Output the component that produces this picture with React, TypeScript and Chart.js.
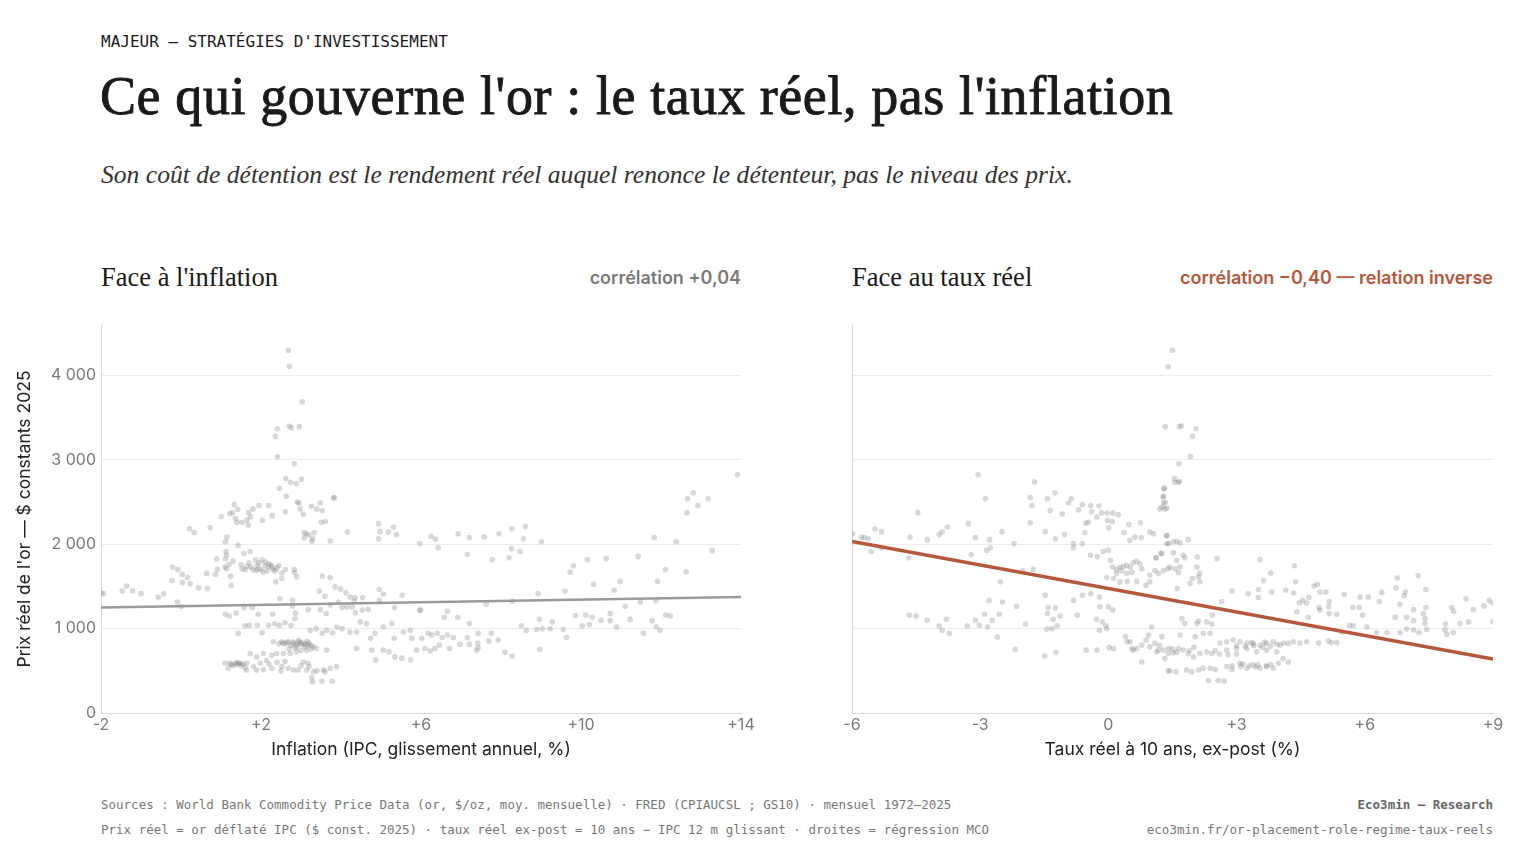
import React, { useEffect, useRef } from 'react';
import { Chart, registerables } from 'chart.js';

Chart.register(...registerables);

// --- données : [x, prix réel $ 2025] ---

// or vs inflation (IPC, glissement annuel, %)
const inflationHigh: [number, number][] = [
  [2.68, 4300], [2.71, 4110], [3.03, 3690], [2.41, 3370], [2.36, 3280], [2.71, 3400], [2.76, 3380], [2.96, 3395],
  [2.41, 3040], [2.83, 2955], [2.62, 2780], [2.74, 2735], [2.88, 2720], [3.01, 2770], [2.46, 2665], [2.63, 2570],
  [2.91, 2500], [2.95, 2490], [3.81, 2550], [3.84, 2555], [2.61, 2385], [2.98, 2420], [3.06, 2355], [3.26, 2450],
  [3.39, 2420], [3.48, 2490], [3.53, 2400], [3.51, 2260], [3.61, 2270], [2.28, 2340], [1.95, 2460], [2.19, 2460],
  [1.80, 2420], [1.69, 2375], [1.74, 2325], [1.65, 2290], [1.53, 2260], [1.68, 2230], [1.40, 2260], [1.36, 2305],
  [1.29, 2375], [1.22, 2365], [1.33, 2470], [1.42, 2415], [1.01, 2330], [2.04, 2285], [0.21, 2185], [0.33, 2140],
  [0.73, 2200], [3.08, 2140], [3.13, 2125], [3.20, 2110], [3.33, 2140], [3.27, 2035], [3.08, 2075], [3.29, 2070],
  [4.16, 2145], [3.73, 2040], [4.94, 2245], [4.98, 2150], [4.94, 2065], [5.19, 2145], [5.31, 2205], [5.39, 2115],
  [5.97, 2010],
];

const inflationMid: [number, number][] = [
  [1.15, 2085], [1.11, 2030], [1.43, 1990], [1.57, 1890], [1.73, 1915], [1.86, 1815], [2.03, 1815], [2.11, 1790],
  [2.19, 1730], [2.28, 1730], [2.44, 1745], [0.89, 1825], [1.11, 1825], [1.13, 1915], [1.14, 1870], [1.10, 1730],
  [1.14, 1710], [1.53, 1710], [1.61, 1700], [1.75, 1730], [1.88, 1690], [1.93, 1710], [2.06, 1670], [2.15, 1685],
  [2.35, 1685], [2.52, 1660], [2.61, 1700], [2.83, 1700], [2.84, 1665], [2.89, 1615], [0.91, 1705], [0.64, 1655],
  [0.86, 1645], [1.24, 1620], [1.50, 1760], [1.70, 1780], [1.90, 1750], [2.00, 1700], [2.20, 1770], [1.30, 1800],
  [1.20, 1760], [2.30, 1700], [2.40, 1720], [1.80, 1700], [2.10, 1745], [1.65, 1740], [1.95, 1780], [2.25, 1755],
  [-0.21, 1730], [-0.08, 1700], [0.03, 1645], [0.16, 1610], [0.23, 1535],
  [0.04, 1545], [-0.23, 1570], [0.44, 1485], [0.66, 1475], [-1.36, 1505], [-1.21, 1445], [-1.0, 1415], [-1.47, 1445],
  [-1.94, 1415], [-0.57, 1375], [-0.43, 1415], [-0.09, 1315], [0.01, 1265], [1.26, 1515], [2.37, 1555], [2.52, 1595],
  [2.47, 1355], [2.79, 1335], [2.79, 1270],
  [1.11, 1170], [1.21, 1150], [1.38, 1185], [1.58, 1250], [1.78, 1250], [1.93, 1170], [2.29, 1170], [2.86, 1185],
  [2.85, 1120], [3.18, 1225], [3.48, 1225], [3.63, 1180], [3.73, 1280], [3.93, 1315], [4.03, 1250], [4.15, 1258],
  [4.28, 1258], [4.35, 1365], [4.54, 1370], [4.36, 1190], [4.53, 1220], [4.68, 1230], [4.96, 1465], [5.06, 1410],
  [4.96, 1335], [5.34, 1250], [5.53, 1395], [5.97, 1220], [3.46, 1445], [3.60, 1385], [3.73, 1605], [3.53, 1625],
  [3.85, 1495], [3.99, 1470], [4.12, 1425], [4.23, 1375], [4.33, 1325],
];

const inflationLow: [number, number][] = [
  [1.43, 945], [1.60, 1035], [1.71, 1040], [1.91, 1040], [2.03, 955], [2.19, 1040], [2.34, 1060], [2.46, 1040],
  [2.60, 1070], [2.75, 1040], [3.23, 980], [3.38, 1000], [3.53, 945], [3.64, 980], [3.79, 955], [3.90, 1020],
  [4.03, 1000], [4.22, 960], [4.39, 960], [4.48, 1080], [4.64, 1060], [4.85, 945], [4.74, 885], [5.06, 1020],
  [5.27, 1060], [5.33, 885], [5.56, 960], [5.77, 885],
  [2.31, 845], [2.52, 845], [2.68, 845], [2.81, 825], [2.93, 845], [3.06, 825], [3.18, 805], [3.31, 785],
  [3.39, 765], [3.14, 745], [2.89, 725], [2.73, 705], [2.56, 705], [2.39, 705], [2.27, 685], [2.06, 705],
  [1.89, 665], [1.73, 705], [2.14, 625], [1.98, 590], [1.81, 550], [1.64, 590], [1.48, 590], [1.39, 605],
  [1.23, 590], [1.10, 590], [1.18, 530], [1.64, 510], [1.89, 510], [2.06, 515], [2.27, 530], [2.52, 550],
  [2.68, 530], [2.81, 510], [2.93, 510], [3.14, 510], [3.31, 490], [3.56, 510], [3.73, 530], [3.89, 550],
  [3.27, 420], [3.29, 370], [3.52, 380], [3.78, 380], [3.64, 745], [4.39, 765], [4.77, 745], [4.87, 630],
  [5.06, 745], [5.20, 725], [5.35, 665], [5.52, 650], [5.74, 630], [3.06, 605], [3.18, 590],
  [2.60, 820], [2.75, 800], [2.90, 790], [3.00, 810], [3.10, 780], [3.20, 830], [2.85, 770], [3.25, 760],
  [2.45, 820], [2.95, 860], [3.00, 740], [2.70, 760], [1.30, 560], [1.50, 560], [1.40, 575], [1.60, 540],
  [2.20, 580], [2.40, 600], [2.60, 610], [3.00, 560], [2.50, 500], [3.40, 500], [3.60, 490], [3.20, 550],
  [2.55, 830], [2.65, 835], [2.80, 840], [3.00, 835], [3.10, 815], [3.25, 800], [2.90, 815], [3.15, 850],
  [1.35, 585], [1.45, 590], [1.55, 580], [1.25, 575],
];

const inflationHighRate: [number, number][] = [
  [6.25, 2095], [6.36, 2060], [6.43, 1960], [6.93, 2125], [7.21, 2080], [7.16, 1880], [7.58, 2090], [7.78, 1820],
  [7.95, 2125], [8.20, 1840], [8.27, 2185], [8.26, 1950], [8.48, 1915], [8.56, 2065], [8.61, 2210], [9.01, 2030],
  [9.73, 1670], [9.81, 1745], [10.16, 1820], [10.63, 1830], [11.43, 1855], [11.83, 2080], [12.38, 2030], [10.31, 1525],
  [10.98, 1560], [11.91, 1560], [12.11, 1700], [12.63, 1675], [12.65, 2375], [12.66, 2540], [12.81, 2610], [12.92, 2460],
  [13.18, 2540], [13.28, 1925], [13.91, 2825], [8.93, 1415], [9.60, 1445], [10.83, 1455], [11.48, 1315], [11.87, 1335],
  [11.10, 1265], [5.99, 1220], [6.66, 1205], [6.58, 1135], [6.92, 1135], [7.21, 1060], [7.63, 1290], [8.28, 1325],
  [8.51, 1035], [8.63, 980], [8.96, 1110], [8.89, 990], [9.03, 1000], [9.23, 1000], [9.28, 1080], [9.56, 990],
  [9.64, 895], [9.86, 1155], [10.03, 1035], [10.12, 1160], [10.21, 1050], [10.28, 1135], [10.50, 1100], [10.73, 1180],
  [10.73, 1095], [10.89, 1020], [11.23, 1110], [11.56, 945], [11.78, 1095], [11.88, 1020], [11.98, 980], [12.12, 1160],
  [12.23, 1150], [5.73, 980], [6.02, 885], [6.18, 945], [6.27, 925], [6.41, 945], [6.53, 895], [6.66, 925],
  [6.81, 895], [6.98, 815], [7.16, 895], [7.21, 815], [7.43, 945], [7.42, 830], [7.76, 945], [7.69, 855],
  [7.93, 865], [7.39, 745], [7.43, 775], [8.10, 720], [8.28, 675], [8.97, 755], [5.89, 745], [6.10, 765],
  [6.23, 735], [6.35, 765], [6.46, 805], [6.71, 765], [-2.0, 1425],
];

// or vs taux réel à 10 ans ex-post (%)
const realNegative: [number, number][] = [
  [-5.99, 2125], [-5.78, 2085], [-5.71, 2080], [-5.62, 2065], [-5.46, 2180], [-5.31, 2150], [-5.55, 1915], [-5.31, 1955],
  [-4.46, 2375], [-4.64, 2085], [-4.24, 2055], [-4.67, 1840], [-3.96, 2115], [-3.89, 2145], [-3.77, 2205], [-3.28, 2245],
  [-3.11, 2080], [-3.05, 2825], [-2.88, 2540], [-2.78, 2055], [-2.85, 1930], [-2.76, 1960], [-3.21, 1880], [-2.49, 2150],
  [-2.21, 2010], [-2.53, 1555], [-1.83, 2555], [-1.79, 2460], [-1.83, 2255], [-1.73, 2740], [-1.48, 2150], [-1.43, 2540],
  [-1.36, 2400], [-1.25, 2610], [-1.24, 2065], [-1.03, 2115], [-1.08, 2360], [-0.93, 2490], [-0.87, 2540], [-0.82, 2010],
  [-0.82, 1960], [-0.70, 2410], [-0.61, 2470], [-0.61, 2010], [-0.55, 2140], [-0.53, 2250], [-0.47, 2265], [-0.41, 2460],
  [-0.39, 2385], [-0.27, 2325], [-0.22, 2455], [-0.16, 2375], [-0.03, 2370], [-0.02, 2285], [0.09, 2270], [0.10, 2370],
  [0.01, 2195], [0.23, 2350], [0.37, 2140], [0.48, 2235], [0.75, 2255], [0.50, 2045], [0.62, 2085], [0.77, 2080],
  [0.97, 2145], [1.06, 2125], [1.12, 1840], [1.23, 1890], [1.28, 2560], [1.29, 2490], [1.31, 2665], [1.32, 2420],
  [1.20, 2420], [1.36, 2100], [1.41, 2010],
  [-4.66, 1160], [-4.50, 1150], [-4.24, 1100], [-3.96, 1030], [-3.89, 980], [-3.79, 1110], [-3.72, 945], [-3.30, 1030],
  [-3.11, 1100], [-3.02, 1040], [-2.90, 1170], [-2.83, 1020], [-2.72, 1100], [-2.55, 1170], [-2.60, 900], [-2.79, 1335],
  [-2.48, 1315], [-2.15, 1265], [-1.94, 1055], [-2.18, 755], [-2.00, 1685], [-1.76, 1705], [-1.48, 1395], [-1.41, 1250],
  [-1.24, 1245], [-1.43, 1180], [-1.13, 1150], [-1.29, 1110], [-1.20, 1035], [-1.44, 995], [-1.32, 1000], [-1.49, 675],
  [-1.23, 720], [-0.73, 1160], [-0.82, 1335], [-0.61, 1395], [-0.52, 745], [-0.41, 1415], [-0.27, 745], [-0.21, 1375],
  [-0.20, 1260], [-0.28, 1110], [-0.14, 1080], [-0.06, 1035], [-0.04, 1000], [-0.21, 980], [0.10, 1220], [0.02, 775],
  [0.12, 765], [0.0, 1260],
];

const realMid: [number, number][] = [
  [-0.42, 1870], [-0.26, 1855], [-0.12, 1915], [0.0, 1930], [0.05, 1810], [0.10, 1730], [0.19, 1700], [0.27, 1725],
  [0.35, 1740], [0.43, 1750], [0.51, 1730], [0.58, 1780], [0.66, 1800], [0.74, 1770], [0.78, 1710], [0.55, 1670],
  [0.43, 1655], [0.31, 1685], [0.19, 1655], [0.12, 1595], [-0.04, 1605], [0.27, 1555], [0.44, 1560], [0.66, 1560],
  [0.88, 1515], [0.97, 1635], [1.09, 1690], [1.17, 1655], [1.29, 1690], [1.40, 1710], [1.11, 1840], [0.97, 1555],
  [0.40, 905], [0.51, 845], [0.58, 745], [0.66, 765], [0.78, 805], [0.88, 865], [0.94, 925], [1.01, 1020],
  [0.97, 785], [1.09, 825], [1.17, 745], [1.25, 905], [1.32, 645], [1.40, 705], [0.78, 605], [1.40, 500],
  [1.13, 725], [0.44, 845], [0.55, 765],
  [1.50, 4300], [1.40, 4105], [1.33, 3395], [1.66, 3395], [1.71, 3405], [2.05, 3370], [1.97, 3280], [1.92, 3040],
  [1.65, 2955], [1.55, 2780], [1.64, 2735], [1.55, 2735], [1.66, 2745], [1.30, 2660], [1.29, 2570], [1.33, 2495],
  [1.37, 2430], [1.25, 2440], [1.37, 2105], [1.37, 2010], [1.52, 2030], [1.60, 2035], [1.68, 2015], [1.87, 2055],
  [1.52, 1900], [1.60, 1810], [1.75, 1870], [1.79, 1840], [1.44, 1725], [1.56, 1710], [1.64, 1665], [1.68, 1730],
  [2.08, 1850], [2.07, 1730], [2.14, 1655], [2.11, 1615], [2.14, 1555], [1.91, 1535], [1.97, 1595], [1.25, 1890],
  [2.54, 1830], [3.55, 1820], [3.80, 1660], [3.63, 1570], [4.35, 1745], [1.61, 1475], [4.38, 1555],
];

const realPositive: [number, number][] = [
  [2.89, 1445], [3.27, 1415], [3.51, 1465], [3.51, 1370], [3.82, 1435], [4.15, 1455], [4.33, 1425], [4.47, 1305],
  [4.55, 1335], [4.69, 1370], [4.81, 1505], [4.89, 1525], [4.95, 1435], [5.09, 1435], [5.17, 1320], [5.15, 1260],
  [4.95, 1220], [5.52, 1405], [5.89, 1375], [6.08, 1375], [6.40, 1430], [6.34, 1320], [6.73, 1485], [6.76, 1600],
  [6.95, 1435], [6.92, 1390], [7.25, 1630], [7.43, 1465], [7.43, 1250], [6.82, 1290], [7.14, 1225], [7.37, 1180],
  [5.95, 1160], [5.72, 1250], [5.87, 1250], [5.34, 1170], [5.17, 1180], [4.93, 1250], [4.68, 1135], [4.41, 1200],
  [4.64, 1305], [6.71, 1135], [6.98, 1135], [7.14, 1095], [7.41, 1120], [7.41, 1060], [8.03, 1250], [8.08, 1205],
  [8.37, 1355], [8.54, 1225], [8.79, 1270], [8.91, 1335], [9.0, 1305], [9.0, 1080], [8.23, 1060], [8.43, 1080],
  [7.89, 1055], [7.92, 930], [8.07, 955], [7.88, 985], [6.83, 955], [6.98, 995], [7.14, 985], [7.27, 955],
  [7.45, 990], [6.52, 955], [6.28, 955], [6.05, 1020], [5.64, 1040], [5.73, 1035], [5.46, 960], [5.22, 835],
  [5.34, 835], [5.15, 855], [4.92, 830], [2.65, 1320], [2.43, 1160], [2.11, 1090], [1.72, 1120], [1.79, 1060],
  [2.07, 1060], [2.30, 1080], [2.42, 1055],
  [1.29, 745], [1.41, 765], [1.52, 715], [1.64, 765], [1.75, 745], [1.87, 705], [1.99, 665], [2.14, 705],
  [2.30, 725], [2.42, 705], [1.44, 500], [1.58, 490], [1.83, 510], [1.95, 490], [2.11, 510], [2.22, 530],
  [2.38, 530], [2.50, 515], [2.34, 385], [2.57, 385], [2.71, 380], [2.77, 550], [2.89, 515], [3.08, 590],
  [3.24, 530], [3.39, 570], [3.55, 530], [3.70, 550], [3.86, 530], [3.98, 590], [4.09, 645], [4.21, 605],
  [2.61, 830], [2.77, 845], [2.92, 865], [3.08, 845], [3.24, 830], [3.39, 825], [3.55, 805], [3.70, 825],
  [3.86, 845], [4.02, 805], [4.21, 825], [4.33, 845], [4.48, 830], [4.64, 845], [2.77, 745], [3.00, 765],
  [3.24, 765], [3.47, 725], [3.70, 745], [3.94, 725], [2.22, 945], [2.38, 945], [1.68, 925], [2.03, 905],
  [2.90, 560], [3.10, 550], [3.30, 560], [3.50, 570], [3.70, 560], [3.00, 800], [3.20, 790], [3.40, 800],
  [3.60, 780], [3.80, 790], [2.50, 740], [2.60, 700], [2.80, 690], [3.00, 700], [1.60, 720], [1.90, 740],
  [2.00, 780], [1.50, 760], [1.20, 800], [3.15, 580], [3.45, 545], [3.80, 575], [3.35, 835], [3.65, 840],
  [3.95, 815], [4.10, 830],
];

// droites de régression MCO (extrémités lues)
const fitInflation: [number, number][] = [[-2, 1250], [14, 1375]];
const fitReal: [number, number][] = [[-6, 2035], [9, 640]];

const inflationTicks = { min: -2, max: 14, step: 4 };
const realTicks = { min: -6, max: 9, step: 3 };
const priceTicks = [0, 1000, 2000, 3000, 4000];

const SANS = 'Inter, "Noto Sans", sans-serif';
const SERIF = '"Liberation Serif", "DejaVu Serif", serif';
const MONO = '"DejaVu Sans Mono", "Liberation Mono", monospace';

const toPts = (rows: [number, number][]) => rows.map(([x, y]) => ({ x, y }));
const signed = (v: number) => (v > 0 ? '+' + v : String(v));
const thousands = (v: number) => String(v).replace(/\B(?=(\d{3})+(?!\d))/g, '\u00a0');

interface PanelProps {
  points: [number, number][];
  fit: [number, number][];
  fitColor: string;
  fitWidth: number;
  ticks: { min: number; max: number; step: number };
  xTitle: string;
  showY: boolean;
  yAxisWidth: number;
  padRight: number;
}

function ScatterPanel({ points, fit, fitColor, fitWidth, ticks, xTitle, showY, yAxisWidth, padRight }: PanelProps) {
  const canvasRef = useRef<HTMLCanvasElement>(null);

  useEffect(() => {
    if (!canvasRef.current) return;
    const chart = new Chart(canvasRef.current, {
      type: 'scatter',
      data: {
        datasets: [
          {
            type: 'line',
            data: toPts(fit),
            borderColor: fitColor,
            borderWidth: fitWidth,
            pointRadius: 0,
            fill: false,
          } as any,
          {
            data: toPts(points),
            backgroundColor: 'rgba(125,125,125,0.3)',
            borderWidth: 0,
            pointRadius: 2.8,
          },
        ],
      },
      options: {
        animation: false,
        responsive: false,
        maintainAspectRatio: false,
        layout: { padding: { top: 25, right: padRight, left: 0, bottom: 0 } },
        plugins: { legend: { display: false }, tooltip: { enabled: false } },
        scales: {
          x: {
            type: 'linear',
            min: ticks.min,
            max: ticks.max,
            grid: { display: false, drawTicks: false },
            border: { display: true, color: '#d9d9d9', width: 1 },
            ticks: {
              stepSize: ticks.step,
              padding: 3,
              color: '#7a7a7a',
              font: { family: SANS, size: 16 },
              callback: (v: any) => signed(Number(v)),
            },
            title: {
              display: true,
              text: xTitle,
              color: '#222',
              font: { family: SANS, size: 17.5 },
              padding: { top: 0, bottom: 10 },
            },
            afterFit: (s: any) => {
              s.height = 57;
            },
          },
          y: {
            type: 'linear',
            min: 0,
            max: 4600,
            grid: { color: '#ececec', drawTicks: false, lineWidth: 1 },
            border: { display: true, color: '#d9d9d9', width: 1 },
            afterBuildTicks: (s: any) => {
              s.ticks = priceTicks.map((value) => ({ value }));
            },
            ticks: {
              display: showY,
              padding: 5,
              color: '#7a7a7a',
              font: { family: SANS, size: 16 },
              callback: (v: any) => thousands(Number(v)),
            },
            title: {
              display: showY,
              text: "Prix réel de l'or — $ constants 2025",
              color: '#222',
              font: { family: SANS, size: 17.5 },
              padding: { top: 14, bottom: 0 },
            },
            afterFit: (s: any) => {
              s.width = yAxisWidth;
            },
          },
        },
      },
    });
    return () => chart.destroy();
  }, [points, fit, fitColor, fitWidth, ticks, xTitle, showY, yAxisWidth, padRight]);

  return <canvas ref={canvasRef} style={{ width: '100%', height: '100%', display: 'block' }} />;
}

const inflationAll = [...inflationHigh, ...inflationMid, ...inflationLow, ...inflationHighRate];
const realAll = [...realNegative, ...realMid, ...realPositive];

export default function App() {
  const abs = (s: React.CSSProperties): React.CSSProperties => ({ position: 'absolute', ...s });
  return (
    <div style={{ position: 'absolute', left: 0, top: 0, width: 1536, height: 864, background: '#fff', overflow: 'hidden' }}>
      <div style={abs({ left: 101, top: 32, fontFamily: MONO, fontSize: 16, lineHeight: '20px', color: '#1a1a1a' })}>
        MAJEUR — STRATÉGIES D'INVESTISSEMENT
      </div>
      <div
        style={abs({
          left: 100,
          top: 69,
          fontFamily: SERIF,
          fontSize: 54,
          lineHeight: '54px',
          fontWeight: 400,
          letterSpacing: '0.6px',
          WebkitTextStroke: '0.9px #1a1a1a',
          color: '#1a1a1a',
          whiteSpace: 'nowrap',
        })}
      >
        Ce qui gouverne l'or : le taux réel, pas l'inflation
      </div>
      <div style={abs({ left: 101, top: 162, fontFamily: SERIF, fontSize: 25.6, lineHeight: '26px', fontStyle: 'italic', color: '#333', whiteSpace: 'nowrap' })}>
        Son coût de détention est le rendement réel auquel renonce le détenteur, pas le niveau des prix.
      </div>

      <div style={abs({ left: 101, top: 263, fontFamily: SERIF, fontSize: 26.5, lineHeight: '28px', color: '#1a1a1a', whiteSpace: 'nowrap' })}>
        Face à l'inflation
      </div>
      <div style={abs({ left: 401, width: 340, top: 268, textAlign: 'right', fontFamily: SANS, fontSize: 18, lineHeight: '20px', fontWeight: 600, color: '#7a7a7a' })}>
        corrélation +0,04
      </div>
      <div style={abs({ left: 852, top: 263, fontFamily: SERIF, fontSize: 26.5, lineHeight: '28px', color: '#1a1a1a', whiteSpace: 'nowrap' })}>
        Face au taux réel
      </div>
      <div style={abs({ left: 1093, width: 400, top: 268, textAlign: 'right', fontFamily: SANS, fontSize: 18, lineHeight: '20px', fontWeight: 600, color: '#b5573a' })}>
        corrélation −0,40 — relation inverse
      </div>

      <div style={abs({ left: 0, top: 300, width: 770, height: 470 })}>
        <ScatterPanel
          points={inflationAll}
          fit={fitInflation}
          fitColor="#9a9a9a"
          fitWidth={2.5}
          ticks={inflationTicks}
          xTitle="Inflation (IPC, glissement annuel, %)"
          showY={true}
          yAxisWidth={101}
          padRight={29}
        />
      </div>
      <div style={abs({ left: 830, top: 300, width: 706, height: 470 })}>
        <ScatterPanel
          points={realAll}
          fit={fitReal}
          fitColor="#b5573a"
          fitWidth={3.5}
          ticks={realTicks}
          xTitle="Taux réel à 10 ans, ex-post (%)"
          showY={false}
          yAxisWidth={22}
          padRight={43}
        />
      </div>

      <div style={abs({ left: 101, width: 1392, top: 797, display: 'flex', justifyContent: 'space-between', fontFamily: MONO, fontSize: 12.5, lineHeight: '16px', color: '#777' })}>
        <span>Sources : World Bank Commodity Price Data (or, $/oz, moy. mensuelle) · FRED (CPIAUCSL ; GS10) · mensuel 1972–2025</span>
        <span style={{ fontWeight: 700, color: '#666' }}>Eco3min — Research</span>
      </div>
      <div style={abs({ left: 101, width: 1392, top: 822, display: 'flex', justifyContent: 'space-between', fontFamily: MONO, fontSize: 12.5, lineHeight: '16px', color: '#777' })}>
        <span>Prix réel = or déflaté IPC ($ const. 2025) · taux réel ex-post = 10 ans − IPC 12 m glissant · droites = régression MCO</span>
        <span>eco3min.fr/or-placement-role-regime-taux-reels</span>
      </div>
    </div>
  );
}
